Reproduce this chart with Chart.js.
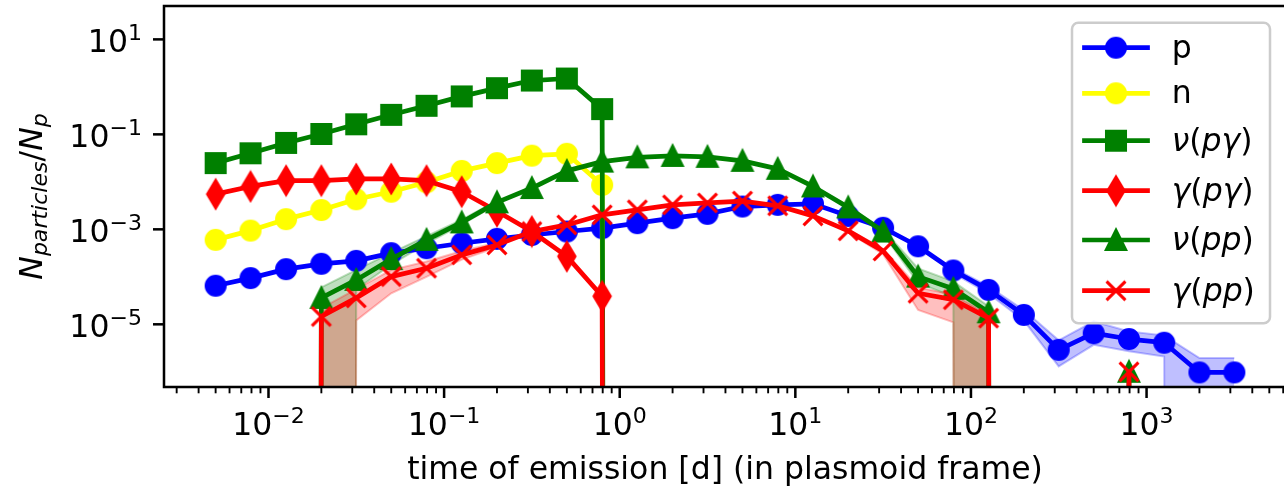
<!DOCTYPE html>
<html>
<head>
<meta charset="utf-8">
<title>N particles vs time of emission</title>
<script src="https://cdn.jsdelivr.net/npm/chart.js@4.4.1/dist/chart.umd.min.js"></script>
<style>
  html, body { margin: 0; padding: 0; background: #fff; overflow: hidden; }
  canvas { display: block; }
</style>
</head>
<body>
<canvas id="myChart" width="1290" height="487"></canvas>
<script>
// emission time bins, days in the plasmoid frame
const timeDays = [0.005, 0.0079, 0.0126, 0.02, 0.0316, 0.05, 0.0794, 0.126, 0.2, 0.316,
  0.5, 0.794, 1.26, 2.0, 3.16, 5.0, 7.94, 12.6, 20, 31.6,
  50, 79.4, 126, 200, 316, 500, 794, 1260, 2000, 3160];

// N_particles / N_p per bin (0 = nothing emitted in that bin)
const protons = [6.5e-5, 9.4e-5, 1.45e-4, 1.88e-4, 2.17e-4, 3.15e-4, 4.0e-4, 5.1e-4, 6.3e-4, 7.6e-4,
  9.0e-4, 1.06e-3, 1.35e-3, 1.72e-3, 2.12e-3, 3.02e-3, 3.28e-3, 3.44e-3, 1.92e-3, 1.08e-3,
  4.4e-4, 1.36e-4, 5.3e-5, 1.58e-5, 2.9e-6, 6.5e-6, 4.9e-6, 4.1e-6, 9.7e-7, 9.7e-7];
const neutrons = [6.0e-4, 9.4e-4, 1.64e-3, 2.55e-3, 4.3e-3, 6.2e-3, 9.8e-3, 0.017, 0.0248, 0.0356,
  0.039, 0.0086, 0, 0, 0, 0, 0, 0, 0, 0,
  0, 0, 0, 0, 0, 0, 0, 0, 0, 0];
const nuPgamma = [0.0248, 0.040, 0.066, 0.102, 0.163, 0.258, 0.40, 0.63, 0.94, 1.36,
  1.5, 0.34, 0, 0, 0, 0, 0, 0, 0, 0,
  0, 0, 0, 0, 0, 0, 0, 0, 0, 0];
const gammaPgamma = [0.0055, 0.008, 0.0106, 0.0106, 0.0115, 0.0115, 0.0106, 0.0062, 0.0024, 0.0009,
  0.00027, 0.000039, 0, 0, 0, 0, 0, 0, 0, 0,
  0, 0, 0, 0, 0, 0, 0, 0, 0, 0];
const nuPP = [0, 0, 0, 3.6e-5, 8.6e-5, 2.36e-4, 6.0e-4, 1.4e-3, 3.7e-3, 7.4e-3,
  0.017, 0.0267, 0.0328, 0.0352, 0.0336, 0.0277, 0.0188, 8.0e-3, 2.9e-3, 9.0e-4,
  1.01e-4, 5.6e-5, 1.79e-5, 0, 0, 0, 1.0e-6, 0, 0, 0];
const gammaPP = [0, 0, 0, 1.46e-5, 3.6e-5, 1.01e-4, 1.52e-4, 2.9e-4, 4.7e-4, 9.0e-4,
  1.24e-3, 2.02e-3, 2.58e-3, 3.28e-3, 3.6e-3, 3.94e-3, 3.13e-3, 1.92e-3, 9.3e-4, 3.5e-4,
  4.5e-5, 3.3e-5, 1.35e-5, 0, 0, 0, 1.0e-6, 0, 0, 0];

// uncertainty bands, null where no band is drawn
const protonsHi = [null, null, null, null, null, null, null, null, null, null,
  null, null, null, null, null, null, null, null, null, null,
  null, 1.55e-4, 6.3e-5, 2.0e-5, 4.6e-6, 1.15e-5, 7.1e-6, 5.8e-6, 1.95e-6, 1.95e-6];
const protonsLo = [null, null, null, null, null, null, null, null, null, null,
  null, null, null, null, null, null, null, null, null, null,
  null, 1.2e-4, 4.4e-5, 1.2e-5, 1.3e-6, 3.7e-6, 2.7e-6, 2.1e-6, 0, 0];
const nuPPHi = [null, null, null, 6.0e-5, 1.4e-4, 3.2e-4, 7.2e-4, 1.6e-3, 4.0e-3, null,
  null, null, null, null, null, null, null, null, 3.1e-3, 1.0e-3,
  1.5e-4, 8.0e-5, 2.4e-5, null, null, null, null, null, null, null];
const nuPPLo = [null, null, null, 0, 5.5e-5, 1.8e-4, 5.0e-4, 1.25e-3, 3.4e-3, null,
  null, null, null, null, null, null, null, null, 2.7e-3, 8.0e-4,
  7.4e-5, 3.8e-5, 0, null, null, null, null, null, null, null];
const gammaPPHi = [null, null, null, 2.2e-5, 5.5e-5, 1.4e-4, 2.1e-4, 3.5e-4, 5.2e-4, null,
  null, null, null, null, null, null, null, null, 1.0e-3, 3.9e-4,
  6.0e-5, 4.2e-5, 1.6e-5, null, null, null, null, null, null, null];
const gammaPPLo = [null, null, null, 0, 1.2e-5, 4.5e-5, 1.0e-4, 2.3e-4, 4.2e-4, null,
  null, null, null, null, null, null, null, null, 8.6e-4, 3.0e-4,
  2.0e-5, 1.1e-5, 0, null, null, null, null, null, null, null];

const seriesNames = ['p', 'n', 'ν(pγ)', 'γ(pγ)', 'ν(pp)', 'γ(pp)'];

const xTicks = [0.01, 0.1, 1, 10, 100, 1000];
const xTickLabels = ['10^−2', '10^−1', '10^0', '10^1', '10^2', '10^3'];
const yTicks = [10, 0.1, 0.001, 0.00001];
const yTickLabels = ['10^1', '10^−1', '10^−3', '10^−5'];
const xTitle = 'time of emission [d] (in plasmoid frame)';

const FONT = '"DejaVu Sans"';
const FS = 31.5;          // 10 pt text
const PT = FS / 10;
const LW = 1.5 * PT;
const MS = 6 * PT;

// log axes: zero counts are pushed far below the axis, so the line drops straight down
const LOG_FLOOR = 1e-300;
const clipZero = v => (v > 0 ? v : LOG_FLOOR);
const bandValue = v => (v === null ? null : clipZero(v));

function makeMarker(kind, color) {
  const c = document.createElement('canvas');
  c.width = 34; c.height = 34;
  const g = c.getContext('2d');
  g.translate(17, 17);
  g.fillStyle = color;
  g.strokeStyle = color;
  g.lineWidth = PT;
  g.lineJoin = 'miter';
  const h = MS / 2;
  g.beginPath();
  if (kind === 'o') {
    g.arc(0, 0, h, 0, Math.PI * 2);
  } else if (kind === 's') {
    g.rect(-h, -h, 2 * h, 2 * h);
  } else if (kind === 'd') {
    const dy = h * Math.SQRT2, dx = 0.6 * dy;
    g.moveTo(0, -dy); g.lineTo(dx, 0); g.lineTo(0, dy); g.lineTo(-dx, 0); g.closePath();
  } else if (kind === '^') {
    g.moveTo(0, -h); g.lineTo(h, h); g.lineTo(-h, h); g.closePath();
  } else if (kind === 'x') {
    g.moveTo(-h, -h); g.lineTo(h, h); g.moveTo(-h, h); g.lineTo(h, -h);
    g.stroke();
    return c;
  }
  g.fill();
  g.stroke();
  return c;
}

function toPoints(vals, f) {
  return timeDays.map((t, i) => ({ x: t, y: f(vals[i]) }));
}

const series = [
  { name: seriesNames[0], vals: protons, color: '#0000ff', marker: 'o' },
  { name: seriesNames[1], vals: neutrons, color: '#ffff00', marker: 'o' },
  { name: seriesNames[2], vals: nuPgamma, color: '#008000', marker: 's' },
  { name: seriesNames[3], vals: gammaPgamma, color: '#ff0000', marker: 'd' },
  { name: seriesNames[4], vals: nuPP, color: '#008000', marker: '^' },
  { name: seriesNames[5], vals: gammaPP, color: '#ff0000', marker: 'x' }
];
series.forEach(s => { s.icon = makeMarker(s.marker, s.color); });

function bandSets(hi, lo, rgba, order) {
  const common = {
    borderColor: rgba, borderWidth: 2, pointRadius: 0, pointHoverRadius: 0,
    tension: 0, clip: 0
  };
  return [
    Object.assign({}, common, { label: 'band', data: toPoints(hi, bandValue), backgroundColor: rgba, fill: '+1', order: order }),
    Object.assign({}, common, { label: 'band', data: toPoints(lo, bandValue), fill: false, order: order + 1 })
  ];
}

// later series sit on top, so they get a lower order
const lineSets = series.map((s, i) => ({
  label: s.name,
  data: toPoints(s.vals, clipZero),
  order: series.length - i,
  borderColor: s.color,
  backgroundColor: s.color,
  borderWidth: LW,
  borderJoinStyle: 'round',
  borderCapStyle: 'square',
  pointStyle: s.icon,
  pointRadius: 10,
  pointHoverRadius: 10,
  fill: false,
  tension: 0,
  clip: 0
}));

const datasets = [].concat(
  bandSets(protonsHi, protonsLo, 'rgba(0,0,255,0.25)', 40),
  bandSets(nuPPHi, nuPPLo, 'rgba(0,128,0,0.25)', 30),
  bandSets(gammaPPHi, gammaPPLo, 'rgba(255,0,0,0.25)', 20),
  lineSets
);

function font(size, italic) {
  return (italic ? 'italic ' : '') + size + 'px ' + FONT;
}

// "10^−2" style label: base plus raised exponent
function drawPower(ctx, label, x, y, align) {
  const parts = label.split('^');
  ctx.font = font(FS);
  const wb = ctx.measureText(parts[0]).width;
  ctx.font = font(FS * 0.7);
  const we = ctx.measureText(parts[1]).width;
  const x0 = align === 'center' ? x - (wb + we) / 2 : x - (wb + we);
  ctx.font = font(FS);
  ctx.fillText(parts[0], x0, y);
  ctx.font = font(FS * 0.7);
  ctx.fillText(parts[1], x0 + wb, y - 12);
}

// runs of [text, italic, scale, drop]
function richWidth(ctx, parts) {
  let w = 0;
  parts.forEach(p => { ctx.font = font(FS * p[2], p[1]); w += ctx.measureText(p[0]).width; });
  return w;
}
function drawRich(ctx, parts, x, y) {
  let cx = x;
  parts.forEach(p => {
    ctx.font = font(FS * p[2], p[1]);
    ctx.fillText(p[0], cx, y + p[3]);
    cx += ctx.measureText(p[0]).width;
  });
}
function labelParts(name) {
  if (name.indexOf('(') < 0) return [[name, false, 1, 0]];
  return name.split('').map(ch => [ch, ch !== '(' && ch !== ')', 1, 0]);
}

const axesDecor = {
  id: 'axesDecor',
  afterDraw(chart) {
    const ctx = chart.ctx;
    const a = chart.chartArea;
    const xs = chart.scales.x, ys = chart.scales.y;
    ctx.save();
    ctx.fillStyle = '#000';
    ctx.strokeStyle = '#000';
    ctx.textBaseline = 'alphabetic';
    ctx.textAlign = 'left';

    // frame
    ctx.lineWidth = 0.8 * PT;
    ctx.strokeRect(a.left, a.top, a.right - a.left, a.bottom - a.top);

    // x ticks
    ctx.lineWidth = 0.8 * PT;
    xTicks.forEach((v, i) => {
      const px = xs.getPixelForValue(v);
      ctx.beginPath(); ctx.moveTo(px, a.bottom); ctx.lineTo(px, a.bottom + 3.5 * PT); ctx.stroke();
      drawPower(ctx, xTickLabels[i], px, a.bottom + 48, 'center');
    });
    ctx.lineWidth = 0.6 * PT;
    for (let e = -3; e <= 3; e++) {
      for (let m = 2; m <= 9; m++) {
        const v = m * Math.pow(10, e);
        if (v < xs.min || v > xs.max) continue;
        const px = xs.getPixelForValue(v);
        ctx.beginPath(); ctx.moveTo(px, a.bottom); ctx.lineTo(px, a.bottom + 2 * PT); ctx.stroke();
      }
    }

    // y ticks
    ctx.lineWidth = 0.8 * PT;
    yTicks.forEach((v, i) => {
      const py = ys.getPixelForValue(v);
      ctx.beginPath(); ctx.moveTo(a.left, py); ctx.lineTo(a.left - 3.5 * PT, py); ctx.stroke();
      drawPower(ctx, yTickLabels[i], a.left - 7 * PT, py + 13, 'right');
    });

    // axis titles
    ctx.font = font(FS);
    const tw = ctx.measureText(xTitle).width;
    ctx.fillText(xTitle, (a.left + a.right) / 2 - tw / 2, 479);

    const yParts = [['N', true, 1, 0], ['particles', true, 0.7, 5.5], ['/', false, 1, 0], ['N', true, 1, 0], ['p', true, 0.7, 5.5]];
    ctx.save();
    ctx.translate(41.7, (a.top + a.bottom) / 2);
    ctx.rotate(-Math.PI / 2);
    drawRich(ctx, yParts, -richWidth(ctx, yParts) / 2, 0);
    ctx.restore();

    // legend
    const box = { x0: 1072, y0: 22.7, x1: 1270, y1: 323.3 };
    const rowY = [47.7, 93.3, 140.7, 190.7, 240, 290.7];
    ctx.beginPath();
    ctx.roundRect(box.x0, box.y0, box.x1 - box.x0, box.y1 - box.y0, 0.2 * FS);
    ctx.fillStyle = 'rgba(255,255,255,0.8)';
    ctx.fill();
    ctx.lineWidth = 2.5;
    ctx.strokeStyle = '#cccccc';
    ctx.stroke();
    series.forEach((s, i) => {
      const y = rowY[i];
      ctx.strokeStyle = s.color;
      ctx.lineWidth = LW;
      ctx.lineCap = 'square';
      ctx.beginPath(); ctx.moveTo(1084.5, y); ctx.lineTo(1147.5, y); ctx.stroke();
      ctx.drawImage(s.icon, 1116 - 17, y - 17);
      ctx.fillStyle = '#000';
      drawRich(ctx, labelParts(s.name), 1171.7, y + 10);
    });
    ctx.restore();
  }
};

const ctx = document.getElementById('myChart');
new Chart(ctx, {
  type: 'line',
  data: { datasets: datasets },
  options: {
    responsive: false,
    devicePixelRatio: 1,
    animation: false,
    events: [],
    layout: { autoPadding: false, padding: { left: 0, top: 6, right: 4, bottom: 0 } },
    plugins: {
      legend: { display: false },
      tooltip: { enabled: false },
      filler: { drawTime: 'beforeDatasetsDraw' }
    },
    scales: {
      x: {
        type: 'logarithmic',
        min: Math.pow(10, -2.595),
        max: Math.pow(10, 3.794),
        ticks: { display: false },
        grid: { display: false, drawTicks: false },
        border: { display: false },
        afterFit: s => { s.height = 100; }
      },
      y: {
        type: 'logarithmic',
        min: Math.pow(10, -6.32),
        max: Math.pow(10, 1.703),
        ticks: { display: false },
        grid: { display: false, drawTicks: false },
        border: { display: false },
        afterFit: s => { s.width = 164; }
      }
    }
  },
  plugins: [axesDecor]
});
</script>
</body>
</html>
